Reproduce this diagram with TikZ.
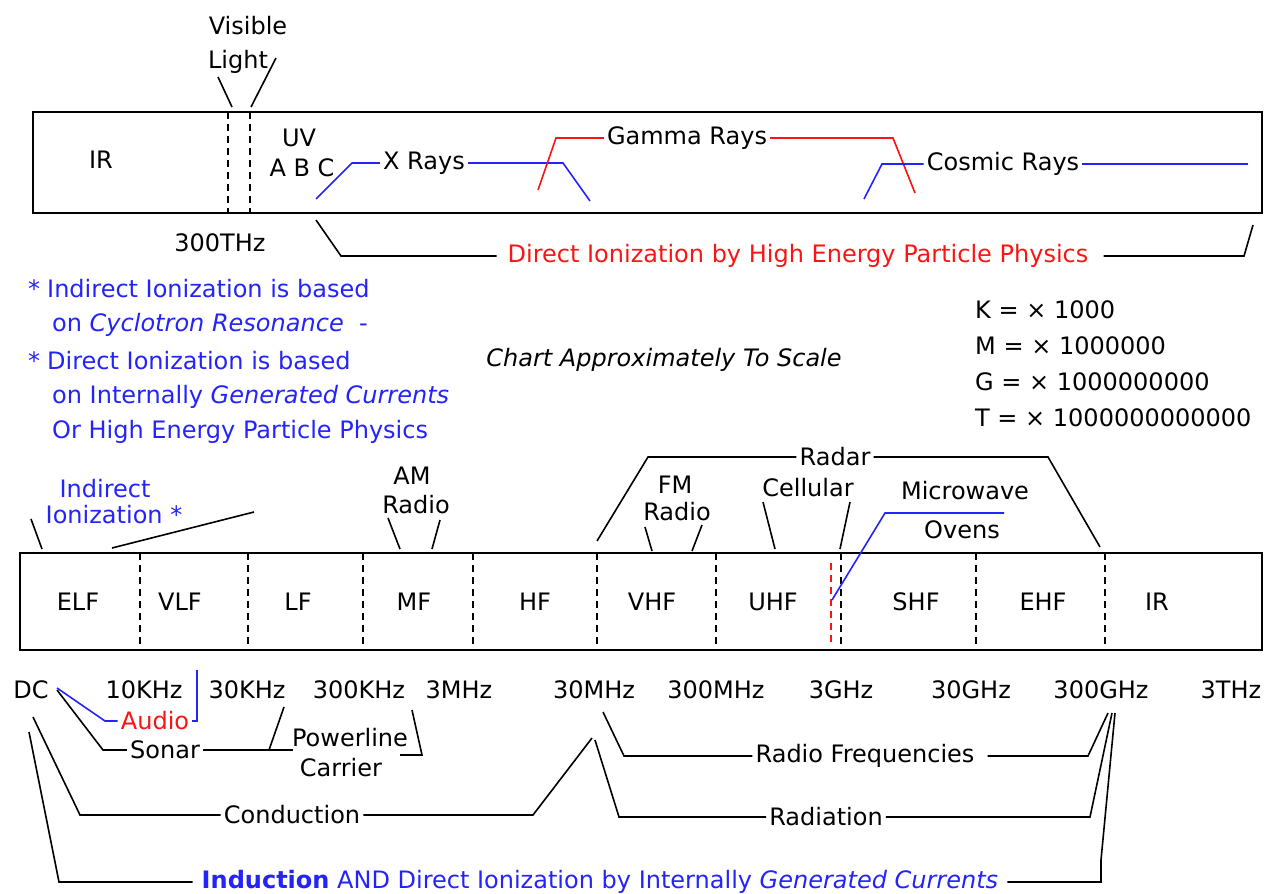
\documentclass[tikz,border=0pt]{standalone}
\usepackage{fontspec}
\setmainfont{DejaVu Sans}
\usepackage{xcolor}
\usetikzlibrary{positioning}

\definecolor{noteblue}{RGB}{35,35,250}
\definecolor{notered}{RGB}{250,20,20}

\tikzset{
  lbl/.style={font=\fontsize{24}{28}\selectfont, inner sep=3pt},
  band/.style={draw, line width=2.4pt},
  divline/.style={line width=1.5pt, dash pattern=on 7pt off 5pt},
  lead/.style={line width=1.6pt},
  bluelead/.style={lead, draw=noteblue},
  redlead/.style={lead, draw=notered},
}

\begin{document}
\begin{tikzpicture}[x=1pt,y=-1pt]
\useasboundingbox (0,0) rectangle (1269,894);

%upper band
\draw[band] (33,112) rectangle (1262,213);
\draw[divline] (228,112) -- (228,213);
\draw[divline] (250,112) -- (250,213);

\node[lbl] (visible) at (248,26) {Visible};
\node[lbl] (light) at (238,62) {Light};
\draw[lead] (218,77) -- (232,107);
\draw[lead] (276,58) -- (251,107);

\node[lbl] (irtop) at (101,160) {IR};
\node[lbl] (uv) at (299,138) {UV};
\node[lbl] (abc) at (302,168) {A B C};
\node[lbl] (thz) at (220,243) {300THz};

%x rays
\node[lbl] (xrays) at (424,163) {X Rays};
\draw[bluelead] (316,199) -- (352,163) -- (xrays.west);
\draw[bluelead] (xrays.east) -- (563,163) -- (590,201);

%gamma rays
\node[lbl] (gamma) at (687,138) {Gamma Rays};
\draw[redlead] (538,190) -- (556,138) -- (gamma.west);
\draw[redlead] (gamma.east) -- (893,138) -- (915,193);

%cosmic rays
\node[lbl] (cosmic) at (1003,164) {Cosmic Rays};
\draw[bluelead] (864,199) -- (882,164) -- (cosmic.west);
\draw[bluelead] (cosmic.east) -- (1248,164);

\node[lbl, text=notered] (hep) at (798,256) {Direct Ionization by High Energy Particle Physics};
\draw[lead] (316,220) -- (341,256) -- ([xshift=-8pt]hep.west);
\draw[lead] ([xshift=12pt]hep.east) -- (1244,256) -- (1253,225);

%notes
\node[lbl, text=noteblue, anchor=west] (note1) at (25,289) {*\hspace{7pt}Indirect Ionization is based};
\node[lbl, text=noteblue, anchor=west] (note2) at (49,325) {on \textit{Cyclotron Resonance}~~-};
\node[lbl, text=noteblue, anchor=west] (note3) at (25,361) {*\hspace{7pt}Direct Ionization is based};
\node[lbl, text=noteblue, anchor=west] (note4) at (49,397) {on Internally \textit{Generated Currents}};
\node[lbl, text=noteblue, anchor=west] (note5) at (49,432) {Or High Energy Particle Physics};

\node[lbl, font=\fontsize{24}{28}\selectfont\itshape] (scale) at (664,360) {Chart Approximately To Scale};

\node[lbl, anchor=west] (kilo) at (972,310) {K = × 1000};
\node[lbl, anchor=west] (mega) at (972,346) {M = × 1000000};
\node[lbl, anchor=west] (giga) at (972,382) {G = × 1000000000};
\node[lbl, anchor=west] (tera) at (972,418) {T = × 1000000000000};

%lower band
\draw[band] (20,553) rectangle (1262,650);
\foreach \x in {140,248,363,473,597,716,841,976,1105}
  \draw[divline] (\x,553) -- (\x,650);
\draw[divline, draw=notered] (831,563) -- (831,646);

\foreach \x/\t in {78/ELF,180/VLF,298/LF,414/MF,535/HF,652/VHF,773/UHF,916/SHF,1043/EHF,1157/IR}
  \node[lbl] (band\t) at (\x,602) {\t};

%labels above lower band
\node[lbl, text=noteblue] (indirect) at (105,489) {Indirect};
\node[lbl, text=noteblue] (ionstar) at (114,515) {Ionization *};
\draw[lead] (31,519) -- (42,549);
\draw[lead] (112,548) -- (254,512);

\node[lbl] (am) at (412,476) {AM};
\node[lbl] (amradio) at (416,505) {Radio};
\draw[lead] (388,518) -- (400,549);
\draw[lead] (440,520) -- (432,549);

\node[lbl] (radar) at (835,457) {Radar};
\draw[lead] (597,541) -- (648,457) -- (radar.west);
\draw[lead] (radar.east) -- (1048,457) -- (1100,547);

\node[lbl] (fm) at (675,485) {FM};
\node[lbl] (fmradio) at (677,512) {Radio};
\draw[lead] (645,527) -- (652,551);
\draw[lead] (702,525) -- (692,551);

\node[lbl] (cellular) at (808,488) {Cellular};
\draw[lead] (763,502) -- (775,549);
\draw[lead] (850,502) -- (840,549);

\node[lbl] (microwave) at (965,491) {Microwave};
\node[lbl] (ovens) at (962,530) {Ovens};
\draw[bluelead] (832,600) -- (885,513) -- (1004,513);

%frequencies
\foreach \x/\n/\t in {31/dc/DC,144/tenk/10KHz,247/thirtyk/30KHz,359/threehk/300KHz,459/threem/3MHz,
  594/thirtym/30MHz,716/threehm/300MHz,841/threeg/3GHz,971/thirtyg/30GHz,1101/threehg/300GHz,1231/threet/3THz}
  \node[lbl] (\n) at (\x,690) {\t};

%audio and sonar
\node[lbl, text=notered] (audio) at (155,721) {Audio};
\draw[bluelead] (57,688) -- (105,721) -- (audio.west);
\draw[bluelead] (audio.east) -- (197,721) -- (197,670);

\node[lbl] (sonar) at (165,750) {Sonar};
\node[lbl] (powerline) at (350,738) {Powerline};
\node[lbl] (carrier) at (341,768) {Carrier};
\draw[lead] (57,690) -- (103,750) -- (sonar.west);
\draw[lead] (sonar.east) -- (293,750);
\draw[lead] (269,750) -- (284,707);
\draw[lead] (412,710) -- (422,755) -- (400,755);

%conduction
\node[lbl] (conduction) at (292,815) {Conduction};
\draw[lead] (33,717) -- (80,815) -- (conduction.west);
\draw[lead] (conduction.east) -- (533,815) -- (592,738);

%radiation
\node[lbl] (radiation) at (826,817) {Radiation};
\draw[lead] (595,740) -- (619,817) -- (radiation.west);
\draw[lead] (radiation.east) -- (1090,817) -- (1112,713);

%radio frequencies
\node[lbl] (rf) at (865,756) {Radio Frequencies};
\draw[lead] (603,712) -- (624,756) -- (rf.west);
\draw[lead] ([xshift=10pt]rf.east) -- (1088,756) -- (1108,713);

%induction
\node[lbl, text=noteblue] (induction) at (600,882) {\textbf{Induction} AND Direct Ionization by Internally \textit{Generated Currents}};
\draw[lead] (29,732) -- (59,882) -- ([xshift=-6pt]induction.west);
\draw[lead] ([xshift=6pt]induction.east) -- (1101,882) -- (1101,860) -- (1115,713);

\end{tikzpicture}
\end{document}
